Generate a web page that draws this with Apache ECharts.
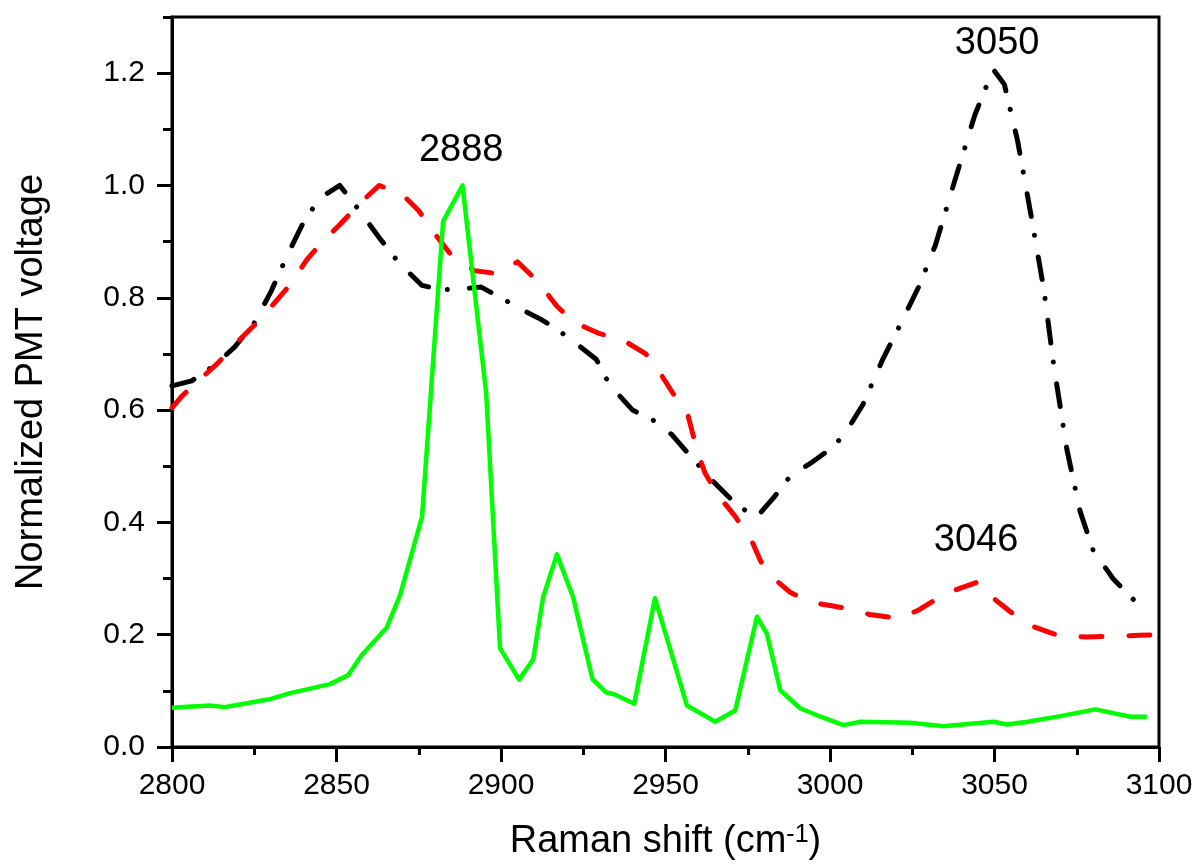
<!DOCTYPE html>
<html>
<head>
<meta charset="utf-8">
<script src="https://cdn.jsdelivr.net/npm/echarts@6/dist/echarts.min.js"></script>
<style>
html,body{margin:0;padding:0;background:#fff;}
#chart{width:1196px;height:868px;}
</style>
</head>
<body>
<div id="chart"></div>
<script>
// ---- data ----
const xTicks = [2800, 2850, 2900, 2950, 3000, 3050, 3100];
const yTicks = [0.0, 0.2, 0.4, 0.6, 0.8, 1.0, 1.2];

// black dash-dot spectrum
const blackX = [2800,2806,2813,2819,2825,2830,2835,2840,2845,2851,2857,2863,2869,2876,2882,2888,2894,2900,2906,2912,2917,2923,2929,2933,2940,2946,2952,2958,2964,2971,2977.5,2983,2988,2994,2999,3004,3010,3016,3021,3027,3032,3038,3044,3049.6,3053,3057,3061,3065,3068,3072,3076,3080,3086,3096];
const blackY = [0.643,0.652,0.68,0.712,0.755,0.81,0.875,0.935,0.978,1.0,0.955,0.907,0.862,0.822,0.814,0.816,0.819,0.80,0.78,0.762,0.744,0.718,0.69,0.645,0.60,0.583,0.556,0.515,0.476,0.435,0.408,0.445,0.483,0.505,0.526,0.553,0.61,0.69,0.748,0.82,0.893,1.01,1.125,1.207,1.18,1.08,0.95,0.815,0.68,0.53,0.42,0.35,0.30,0.24];

// red dashed spectrum
const redX = [2800,2803,2808,2814,2820,2825,2830,2836,2841,2846,2851,2857,2863,2870,2875,2880,2885,2892,2899,2905,2911,2917,2922,2930,2937,2944,2949,2953,2956.5,2959.5,2962,2966,2971,2976,2979,2983,2988,2994,3000,3006,3012,3021,3027,3035,3045,3049,3055,3062,3070,3078,3086,3094,3100];
const redY = [0.604,0.625,0.652,0.684,0.722,0.751,0.783,0.824,0.868,0.902,0.93,0.968,1.0,0.984,0.955,0.913,0.875,0.848,0.843,0.864,0.83,0.785,0.757,0.736,0.725,0.70,0.66,0.623,0.598,0.53,0.488,0.448,0.412,0.37,0.33,0.30,0.275,0.258,0.252,0.246,0.236,0.229,0.244,0.273,0.294,0.268,0.24,0.214,0.197,0.196,0.197,0.199,0.20];

// green solid spectrum
const greenX = [2800,2806,2811.6,2816,2821,2825,2830.3,2835.9,2842,2848,2853.6,2857.7,2865.3,2869.3,2876,2882.4,2888.3,2895.5,2899.7,2905.5,2909.8,2912.8,2917,2921.9,2927.8,2932,2934.4,2940.5,2946.8,2956.5,2965.1,2971.2,2977.8,2980.8,2984.9,2990.9,2997.5,3004.1,3009.2,3017,3024.4,3034.5,3042,3049.7,3053.8,3060,3070,3080.6,3091.3,3096.3];
const greenY = [0.070,0.072,0.074,0.071,0.076,0.080,0.086,0.096,0.104,0.112,0.128,0.164,0.213,0.27,0.41,0.936,1.0,0.63,0.176,0.12,0.156,0.267,0.343,0.267,0.121,0.097,0.094,0.077,0.265,0.074,0.045,0.065,0.232,0.202,0.101,0.069,0.053,0.039,0.045,0.044,0.043,0.037,0.041,0.045,0.040,0.045,0.055,0.067,0.054,0.054];

// peak annotations
const annotText = ['2888', '3050', '3046'];
const annotX = [2887.9, 3050.8, 3044.4];
const annotY = [1.062, 1.252, 0.368];

// ---- chart ----
const FONT = '"Liberation Sans", Arial, sans-serif';
const zip = (xs, ys) => xs.map((x, i) => [x, ys[i]]);

const chart = echarts.init(document.getElementById('chart'), null, {renderer: 'canvas'});
chart.setOption({
  backgroundColor: '#ffffff',
  animation: false,
  grid: {
    left: 172, right: 37, top: 17, bottom: 121,
    show: true, borderColor: '#000', borderWidth: 3, backgroundColor: 'transparent'
  },
  xAxis: {
    type: 'value', min: 2800, max: 3100, interval: 50,
    name: 'Raman shift (cm{sup|-1})',
    nameLocation: 'middle', nameGap: 76,
    nameTextStyle: {
      fontSize: 38, fontFamily: FONT, color: '#000',
      rich: {sup: {fontSize: 25, fontFamily: FONT, color: '#000', verticalAlign: 'top'}}
    },
    axisLine: {show: true, onZero: false, lineStyle: {color: '#000', width: 3}},
    axisTick: {show: true, inside: false, length: 15, lineStyle: {color: '#000', width: 3}},
    minorTick: {show: true, splitNumber: 2, length: 8, lineStyle: {color: '#000', width: 3}},
    axisLabel: {
      fontSize: 30, fontFamily: FONT, color: '#000', margin: 24,
      customValues: xTicks, formatter: v => String(v)
    },
    splitLine: {show: false}, minorSplitLine: {show: false}
  },
  yAxis: [{
    type: 'value', min: 0, max: 1.3,
    name: 'Normalized PMT voltage',
    nameLocation: 'middle', nameGap: 121,
    nameTextStyle: {fontSize: 38, fontFamily: FONT, color: '#000'},
    axisLine: {show: true, onZero: false, lineStyle: {color: '#000', width: 3}},
    axisTick: {show: true, inside: false, length: 15, customValues: yTicks, lineStyle: {color: '#000', width: 3}},
    axisLabel: {
      fontSize: 30, fontFamily: FONT, color: '#000', margin: 27,
      customValues: yTicks, formatter: v => Number(v).toFixed(1)
    },
    splitLine: {show: false}
  }, {
    type: 'value', min: 0, max: 1.3, interval: 0.1, position: 'left', offset: 0,
    axisLine: {show: false},
    axisTick: {show: true, inside: false, length: 9, lineStyle: {color: '#000', width: 3}},
    axisLabel: {show: false},
    splitLine: {show: false}
  }],
  series: [{
    type: 'line', name: 'black', data: zip(blackX, blackY), showSymbol: false, symbol: 'none',
    z: 2,
    lineStyle: {color: '#000', width: 5, type: [23, 19, 0.1, 22], cap: 'round', join: 'round'}
  }, {
    type: 'line', name: 'red', data: zip(redX, redY), showSymbol: false, symbol: 'none',
    z: 3,
    lineStyle: {color: '#ff0000', width: 5, type: [21, 27], cap: 'round', join: 'round'}
  }, {
    type: 'line', name: 'green', data: zip(greenX, greenY), showSymbol: false, symbol: 'none',
    z: 4,
    lineStyle: {color: '#00ff00', width: 4.5, type: 'solid', join: 'round'}
  }, {
    type: 'scatter', name: 'labels', symbolSize: 0, silent: true, z: 5,
    itemStyle: {opacity: 1, color: '#000'},
    data: annotText.map((t, i) => ({name: t, value: [annotX[i], annotY[i]]})),
    label: {
      show: true, position: 'inside', formatter: p => p.name,
      fontSize: 38, fontFamily: FONT, color: '#000', opacity: 1
    }
  }]
});
</script>
</body>
</html>
